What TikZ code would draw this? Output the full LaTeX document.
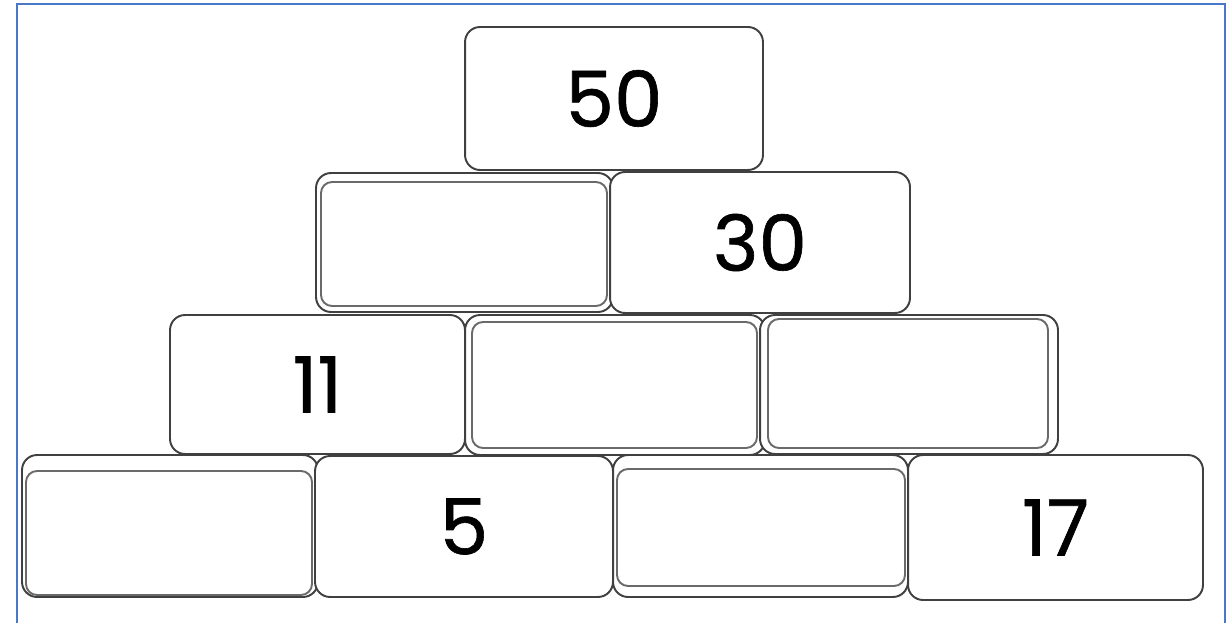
\documentclass[tikz,border=0pt]{standalone}
\usepackage{fontspec}
\setmainfont{Poppins}
\newfontfamily\brickfont{Poppins}[FakeBold=0.8]
\definecolor{frameblue}{HTML}{4A78C8}
\definecolor{edge}{HTML}{404040}
\definecolor{inneredge}{HTML}{6A6A6A}
\tikzset{
  brick/.style={draw=edge, line width=1.1pt, rounded corners=0.3cm, fill=white, inner sep=0pt,
    font=\brickfont\fontsize{44}{48}\selectfont},
  innerbrick/.style={draw=inneredge, line width=1.1pt, rounded corners=0.22cm},
}
\begin{document}
\begin{tikzpicture}[x=0.02cm,y=-0.02cm]
\useasboundingbox (0,0) rectangle (1227,622);
\draw[frameblue, line width=1.2pt] (17,640) -- (17,4) -- (1225,4) -- (1225,640);
% row 1
\node[brick, minimum width=5.96cm, minimum height=2.86cm] (b50) at (614,98.5) {50};
% row 2
\node[brick, minimum width=5.94cm, minimum height=2.78cm] (e21) at (464.5,242.5) {};
\node[brick, minimum width=6.00cm, minimum height=2.82cm] (b30) at (760,242.5) {30};
% row 3
\node[brick, minimum width=5.90cm, minimum height=2.78cm] (b11) at (317.5,384.5) {11};
\node[brick, minimum width=6.00cm, minimum height=2.80cm] (e32) at (615,385) {};
\node[brick, minimum width=5.96cm, minimum height=2.78cm] (e33) at (909,384.5) {};
% row 4
\node[brick, minimum width=5.92cm, minimum height=2.84cm] (e41) at (170,526) {};
\node[brick, minimum width=5.96cm, minimum height=2.82cm] (b5) at (464,526.5) {5};
\node[brick, minimum width=5.90cm, minimum height=2.84cm] (e43) at (760.5,526) {};
\node[brick, minimum width=5.90cm, minimum height=2.90cm] (b17) at (1055.5,527.5) {17};
% inner outlines of the empty bricks
\draw[innerbrick] (321,182) rectangle (607,306);
\draw[innerbrick] (472,322) rectangle (757,448);
\draw[innerbrick] (768,319) rectangle (1048,448);
\draw[innerbrick] (26,471) rectangle (312,595);
\draw[innerbrick] (617,469) rectangle (905,586);
\end{tikzpicture}
\end{document}
